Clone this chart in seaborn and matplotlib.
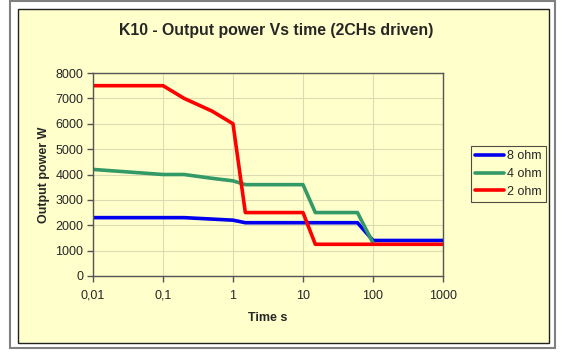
import pandas as pd
import seaborn as sns
import matplotlib.pyplot as plt
from matplotlib.patches import Rectangle
from matplotlib.ticker import FixedLocator, FixedFormatter

# values
t_8 = [0.01, 0.2, 1, 1.5, 60, 100, 1000]
p_8 = [2300, 2300, 2200, 2100, 2100, 1400, 1400]

t_4 = [0.01, 0.1, 0.2, 0.5, 1, 1.5, 10, 15, 60, 100]
p_4 = [4200, 4000, 4000, 3850, 3750, 3600, 3600, 2500, 2500, 1300]

t_2 = [0.01, 0.1, 0.2, 0.5, 1, 1.5, 10, 15, 1000]
p_2 = [7500, 7500, 7000, 6500, 6000, 2500, 2500, 1250, 1250]

series = ["8 ohm", "4 ohm", "2 ohm"]
colors = ["#0000ee", "#339966", "#ff0000"]
x_ticks = [0.01, 0.1, 1, 10, 100, 1000]
x_labels = ["0,01", "0,1", "1", "10", "100", "1000"]

df = pd.concat([
    pd.DataFrame({"Time s": t_8, "Output power W": p_8, "load": series[0]}),
    pd.DataFrame({"Time s": t_4, "Output power W": p_4, "load": series[1]}),
    pd.DataFrame({"Time s": t_2, "Output power W": p_2, "load": series[2]}),
])

sns.set_style("white")
plt.rcParams['font.family'] = ['Liberation Sans', 'DejaVu Sans']

fig = plt.figure(figsize=(5.63, 3.52), dpi=100)
fig.patch.set_facecolor("white")
# outer grey frame + inner yellow chart box
fig.patches.append(Rectangle((10/563, 4/352), 545/563, 347/352, transform=fig.transFigure,
                             facecolor="white", edgecolor="#808080", lw=1.5, zorder=-2))
fig.patches.append(Rectangle((18/563, 9/352), 531/563, 334/352, transform=fig.transFigure,
                             facecolor="#ffffcc", edgecolor="#222222", lw=1.0, zorder=-1))

ax = fig.add_axes([93/563, 76/352, 350/563, 203/352])
ax.set_zorder(2)
ax.set_facecolor("#ffffcc")

sns.lineplot(data=df, x="Time s", y="Output power W", hue="load", palette=colors,
             hue_order=series, sort=False, estimator=None, lw=2.6, ax=ax)

ax.set_xscale("log")
ax.set_xlim(0.01, 1000)
ax.set_ylim(0, 8000)
ax.xaxis.set_major_locator(FixedLocator(x_ticks))
ax.xaxis.set_major_formatter(FixedFormatter(x_labels))
ax.xaxis.set_minor_locator(FixedLocator([]))
ax.set_yticks(range(0, 8001, 1000))

ax.grid(True, color="#dcdcb4", lw=0.8)
for s in ax.spines.values():
    s.set_color("#555555")
    s.set_linewidth(1.0)
ax.tick_params(axis="both", direction="out", length=4, width=1, color="#555555",
               labelsize=9, pad=3, bottom=True, left=True)
ax.tick_params(axis="x", pad=6)

ax.set_xlabel("Time s", fontsize=9, fontweight="bold", labelpad=7)
ax.set_ylabel("Output power W", fontsize=9, fontweight="bold", labelpad=4)

fig.text(0.49, 0.913, "K10 - Output power Vs time (2CHs driven)", ha="center", va="center",
         fontsize=11.4, fontweight="bold")

handles, labels = ax.get_legend_handles_labels()
leg = ax.legend(handles, labels, loc="center left", bbox_to_anchor=(471/563, 178/352),
                bbox_transform=fig.transFigure, frameon=True, fancybox=False, fontsize=9,
                handlelength=2.3, handletextpad=0.2, labelspacing=0.45, borderpad=0.35,
                borderaxespad=0)
leg.get_frame().set_edgecolor("#222222")
leg.get_frame().set_facecolor("#ffffcc")
leg.get_frame().set_linewidth(0.8)

fig.savefig("out.png", dpi=100)
